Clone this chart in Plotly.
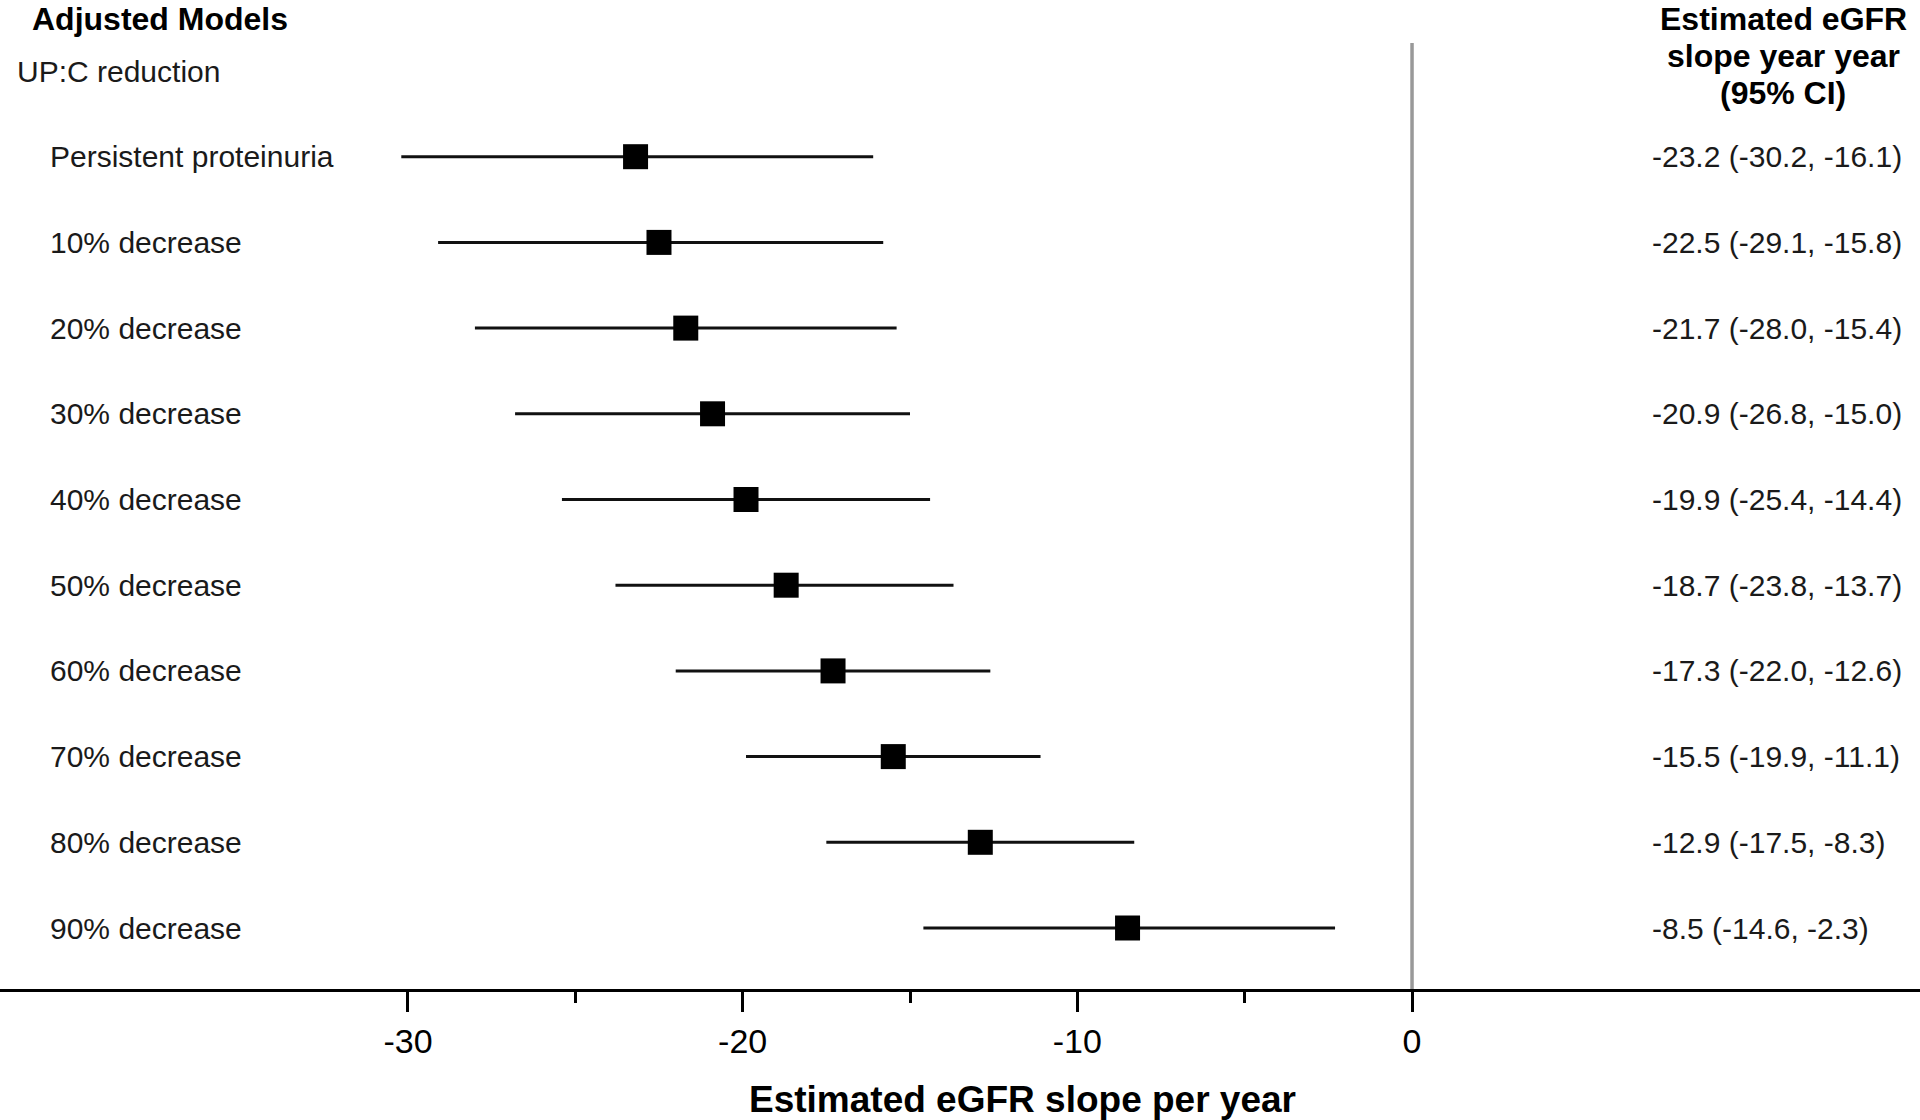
import plotly.graph_objects as go

# ---- data ----
categories = ["Persistent proteinuria", "10% decrease", "20% decrease", "30% decrease",
              "40% decrease", "50% decrease", "60% decrease", "70% decrease",
              "80% decrease", "90% decrease"]
estimate = [-23.2, -22.5, -21.7, -20.9, -19.9, -18.7, -17.3, -15.5, -12.9, -8.5]
ci_low = [-30.2, -29.1, -28.0, -26.8, -25.4, -23.8, -22.0, -19.9, -17.5, -14.6]
ci_high = [-16.1, -15.8, -15.4, -15.0, -14.4, -13.7, -12.6, -11.1, -8.3, -2.3]
major_ticks = [-30, -20, -10, 0]
major_tick_labels = ["-30", "-20", "-10", "0"]
minor_ticks = [-25, -15, -5]
left_header = "Adjusted Models"
group_label = "UP:C reduction"
right_header = ["Estimated eGFR", "slope year year", "(95% CI)"]
x_title = "Estimated eGFR slope per year"

W, H = 1920, 1120
FONT = "Liberation Sans, Arial, Helvetica, sans-serif"

rows = list(range(len(categories)))
err_plus = [h - e for h, e in zip(ci_high, estimate)]
err_minus = [e - l for e, l in zip(estimate, ci_low)]

fig = go.Figure()
fig.add_trace(go.Scatter(
    x=estimate, y=rows, mode="markers",
    marker=dict(symbol="square", size=25, color="black", line=dict(width=0)),
    error_x=dict(type="data", symmetric=False, array=err_plus, arrayminus=err_minus,
                 thickness=3, width=0, color="#111111"),
    hoverinfo="skip", showlegend=False,
))

row_px = 85.7
y_top = -156.7 / row_px
y_bot = 9 + (989 - 928) / row_px


def px_to_row(py):
    return (py - 156.7) / row_px


annotations = []
# left labels
for r, c in zip(rows, categories):
    annotations.append(dict(x=48 / W, xref="paper", y=r, yref="y", text=c,
                            xanchor="left", yanchor="middle", showarrow=False,
                            font=dict(family=FONT, size=30, color="#1a1a1a")))
# right values
for r, e, lo, hi in zip(rows, estimate, ci_low, ci_high):
    txt = f"{e:.1f} ({lo:.1f}, {hi:.1f})"
    annotations.append(dict(x=1650 / W, xref="paper", y=r, yref="y", text=txt,
                            xanchor="left", yanchor="middle", showarrow=False,
                            font=dict(family=FONT, size=30, color="#1a1a1a")))
# headers
annotations.append(dict(x=30 / W, xref="paper", y=px_to_row(19), yref="y",
                        text=f"<b>{left_header}</b>",
                        xanchor="left", yanchor="middle", showarrow=False,
                        font=dict(family=FONT, size=32, color="black")))
annotations.append(dict(x=15 / W, xref="paper", y=px_to_row(71), yref="y", text=group_label,
                        xanchor="left", yanchor="middle", showarrow=False,
                        font=dict(family=FONT, size=30, color="#1a1a1a")))
for i, line in enumerate(right_header):
    annotations.append(dict(x=1783 / W, xref="paper", y=px_to_row(19 + i * 37), yref="y",
                            text=f"<b>{line}</b>", xanchor="center", yanchor="middle",
                            showarrow=False, font=dict(family=FONT, size=32, color="black")))
# x axis title
annotations.append(dict(x=1022 / W, xref="paper", y=-(1099 - 989) / 989, yref="paper",
                        text=f"<b>{x_title}</b>", xanchor="center", yanchor="middle",
                        showarrow=False, font=dict(family=FONT, size=37, color="black")))

# zero reference line
shapes = [dict(type="line", x0=0, x1=0, xref="x", y0=0, y1=(989 - 43) / 989, yref="paper",
               line=dict(color="#999999", width=3.5), layer="below")]

px_per_unit = 33.47
x_left = -30 - 408 / px_per_unit
x_right = (1920 - 1412) / px_per_unit

fig.update_layout(
    width=W, height=H,
    margin=dict(l=0, r=0, t=0, b=H - 989, pad=0),
    paper_bgcolor="white", plot_bgcolor="white",
    annotations=annotations, shapes=shapes,
    xaxis=dict(range=[x_left, x_right], tickmode="array", tickvals=major_ticks,
               ticktext=major_tick_labels, ticks="outside", ticklen=20, tickwidth=2.5,
               tickcolor="black", showline=True, linewidth=3, linecolor="black",
               showgrid=False, zeroline=False,
               tickfont=dict(family=FONT, size=34, color="black"),
               minor=dict(tickmode="array", tickvals=minor_ticks, ticks="outside",
                          ticklen=11, tickwidth=2.5, tickcolor="black", showgrid=False)),
    yaxis=dict(range=[y_bot, y_top], visible=False, showgrid=False, zeroline=False),
)

fig.write_html("out.html", config={"displayModeBar": False},
               post_script="document.body.style.margin='0';document.body.style.overflow='hidden';")
